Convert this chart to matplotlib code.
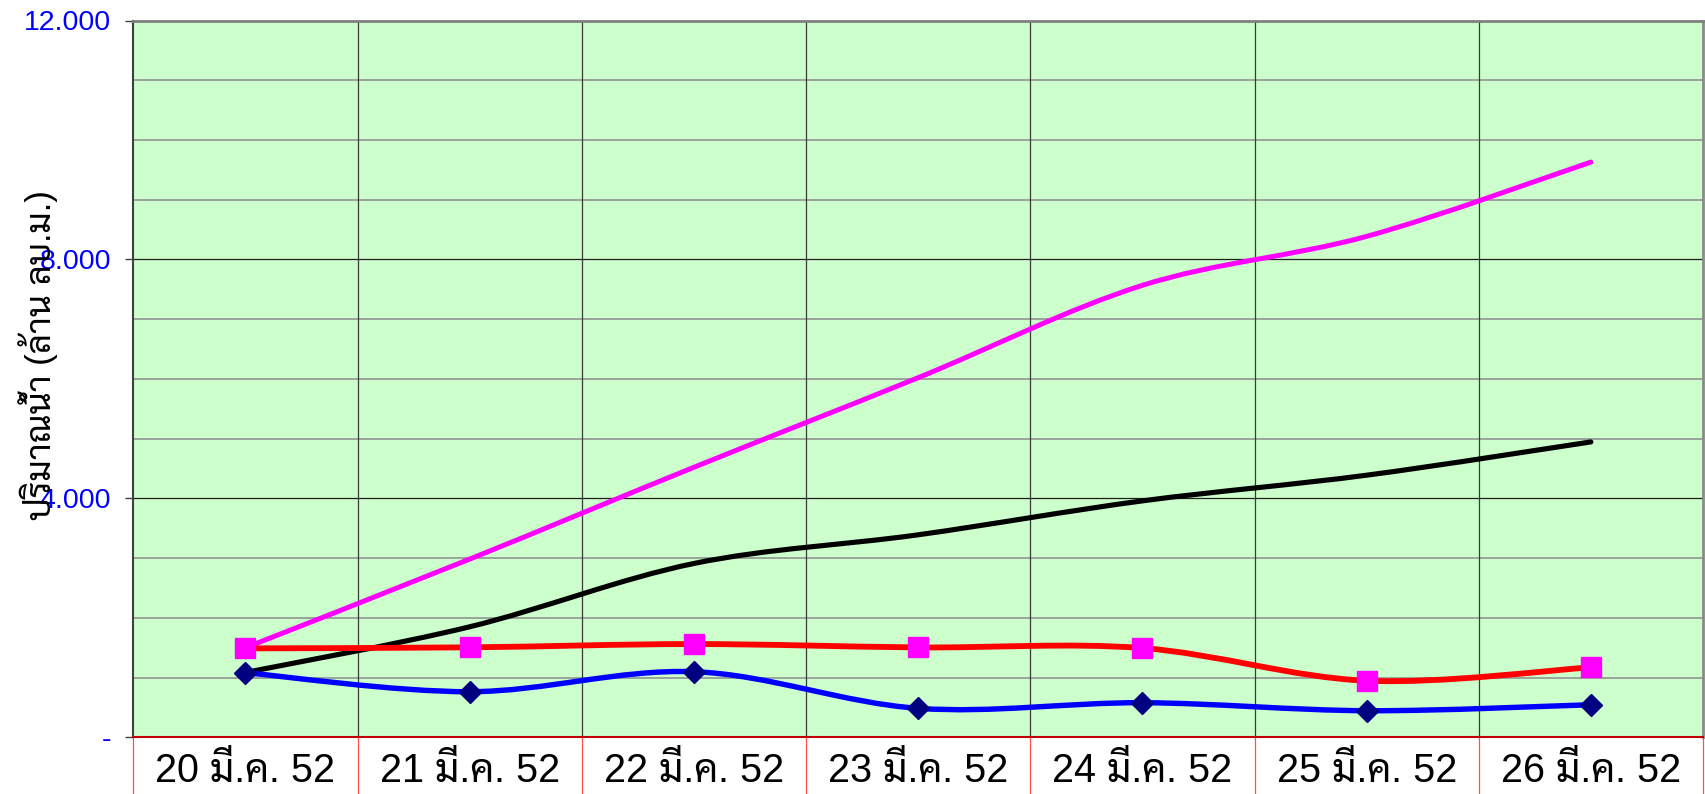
import matplotlib
matplotlib.use("Agg")
import matplotlib.pyplot as plt
from matplotlib.path import Path
from matplotlib.patches import PathPatch
import numpy as np

# ---------------- data ----------------
categories = ["20 มี.ค. 52", "21 มี.ค. 52", "22 มี.ค. 52", "23 มี.ค. 52",
              "24 มี.ค. 52", "25 มี.ค. 52", "26 มี.ค. 52"]
series_magenta = [1500, 2983, 4520, 6020, 7566, 8386, 9629]
series_black = [1085, 1850, 2910, 3390, 3958, 4388, 4945]
series_red = [1489, 1506, 1561, 1505, 1494, 947, 1171]
series_blue = [1081, 763, 1098, 485, 579, 445, 545]
ytick_values = [0, 4000, 8000, 12000]
ytick_labels = ["-", "4.000", "8.000", "12.000"]
ylabel = "ปริมาณน้ำ (ล้าน ลบ.ม.)"

FONT = ["Liberation Sans", "Sarabun", "Noto Sans Thai", "DejaVu Sans"]
plt.rcParams["font.family"] = FONT

W, H = 1706, 794
fig = plt.figure(figsize=(W / 100, H / 100), dpi=100)
L, R, T, B = 133.3, 1703.0, 20.5, 737.3
ax = fig.add_axes([L / W, (H - B) / H, (R - L) / W, (B - T) / H])
ax.set_facecolor("#CCFFCC")
n = len(categories)
ax.set_xlim(-0.5, n - 0.5)
ax.set_ylim(0, 12000)

# grid
for v in range(1000, 12000, 1000):
    major = v % 4000 == 0
    ax.axhline(v, color="#202020" if major else "#8C8C8C",
               lw=0.9 if major else 1.1, zorder=1)
for b in np.arange(0.5, n - 0.5, 1.0):
    ax.axvline(b, color="#3A3A3A", lw=0.9, zorder=1)


def smooth_path(xs, ys):
    pts = np.column_stack([xs, ys]).astype(float)
    verts = [pts[0]]
    codes = [Path.MOVETO]
    m = len(pts)
    for i in range(m - 1):
        p0 = pts[i - 1] if i > 0 else pts[i]
        p1 = pts[i]
        p2 = pts[i + 1]
        p3 = pts[i + 2] if i + 2 < m else pts[i + 1]
        c1 = p1 + (p2 - p0) / 6.0
        c2 = p2 - (p3 - p1) / 6.0
        verts += [c1, c2, p2]
        codes += [Path.CURVE4] * 3
    return Path(verts, codes)


x = np.arange(n)
for ys, col, lw in [(series_magenta, "#FF00FF", 3.6),
                    (series_black, "#000000", 3.7),
                    (series_red, "#FF0000", 4.2),
                    (series_blue, "#0000FF", 3.9)]:
    ax.add_patch(PathPatch(smooth_path(x, ys), fill=False, edgecolor=col,
                           lw=lw, capstyle="round", joinstyle="round", zorder=3))

ax.plot(x, series_red, ls="none", marker="s", ms=15, mfc="#FF00FF",
        mec="#FF00FF", zorder=4)
ax.plot(x, series_blue, ls="none", marker="D", ms=11, mfc="#000080",
        mec="#000080", zorder=4)

# spines
ax.spines["left"].set_color("#404040")
ax.spines["left"].set_linewidth(1.5)
ax.spines["top"].set_color("#808080")
ax.spines["top"].set_linewidth(2.0)
ax.spines["right"].set_color("#8A8A8A")
ax.spines["right"].set_linewidth(2.0)
ax.spines["bottom"].set_color("#C00000")
ax.spines["bottom"].set_linewidth(1.5)
for s in ax.spines.values():
    s.set_zorder(5)

# y ticks
ax.set_yticks(ytick_values)
ax.set_yticklabels(ytick_labels, color="#0000FF", fontsize=20.5)
ax.tick_params(axis="y", length=6, width=1.0, color="#404040", pad=10)
ax.set_yticks([], minor=True)

# x ticks as category table
ax.set_xticks(x)
ax.set_xticklabels(categories, fontsize=28.5)
ax.tick_params(axis="x", length=0, pad=32)
for lbl in ax.get_xticklabels():
    lbl.set_va("baseline")
xt = ax.get_xaxis_transform()
depth = (H - B) / (B - T)
for b in np.arange(-0.5, n + 0.5, 1.0):
    ax.plot([b, b], [0, -depth - 0.01], transform=xt, color="#FF5050",
            lw=0.9, clip_on=False, zorder=5)

fig.text(38 / W, 1 - 355 / H, ylabel, rotation=90, ha="center", va="center",
         fontsize=25, color="black")

fig.savefig("out.png", dpi=100)
